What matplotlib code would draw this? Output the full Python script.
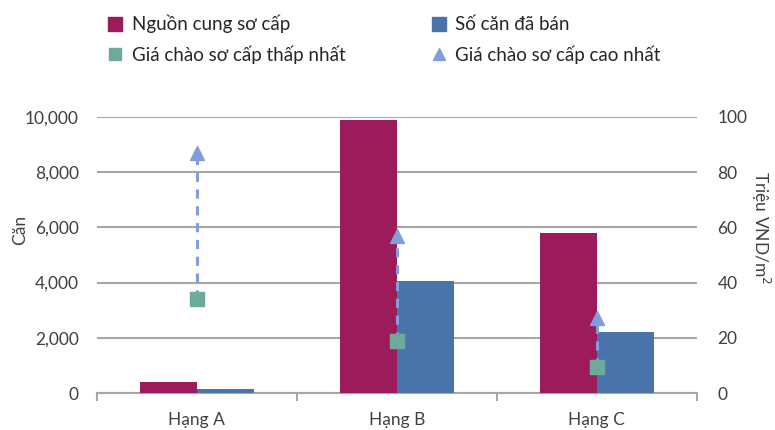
import matplotlib
matplotlib.use("Agg")
import matplotlib.pyplot as plt
from matplotlib.lines import Line2D
from matplotlib.patches import Patch
from matplotlib.ticker import FuncFormatter

categories = ["Hạng A", "Hạng B", "Hạng C"]
supply = [400, 9900, 5800]
sold = [130, 4070, 2200]
price_min = [34, 19, 9.5]
price_max = [87, 57, 27]

c_supply = "#9c1b5b"
c_sold = "#4a74a9"
c_min = "#6daa9c"
c_max = "#7f9edb"
c_grid = "#a6a6a6"

plt.rcParams["font.family"] = ["Lato", "DejaVu Sans"]

fig = plt.figure(figsize=(7.75, 4.30), dpi=100)
ax = fig.add_axes([0.125, 0.086, 0.774, 0.642])

x = list(range(len(categories)))
w = 0.285
ax.bar([i - w / 2 for i in x], supply, width=w, color=c_supply, zorder=3)
ax.bar([i + w / 2 for i in x], sold, width=w, color=c_sold, zorder=3)

ax.set_xlim(-0.5, 2.5)
ax.set_ylim(0, 10000)
ax.set_yticks(range(0, 10001, 2000))
ax.yaxis.set_major_formatter(FuncFormatter(lambda v, p: f"{int(v):,}"))
ax.grid(axis="y", color=c_grid, linewidth=1.5, zorder=0)
ax.set_axisbelow(True)
for s in ["top", "left", "right"]:
    ax.spines[s].set_visible(False)
ax.spines["bottom"].set_color(c_grid)
ax.spines["bottom"].set_linewidth(1.5)
ax.set_xticks(x)
ax.set_xticklabels(categories)
ax.set_xticks([-0.5, 0.5, 1.5, 2.5], minor=True)
ax.tick_params(axis="x", which="major", length=0, pad=14, labelsize=12.5, colors="#404040")
ax.tick_params(axis="x", which="minor", length=6, width=1.5, color=c_grid)
ax.tick_params(axis="y", length=0, pad=13, labelsize=12.5, colors="#404040")
ax.set_ylabel("Căn", fontsize=12.5, color="#404040")
ax.yaxis.set_label_coords(-0.115, 0.59)

ax2 = ax.twinx()
ax2.set_ylim(0, 100)
ax2.set_yticks(range(0, 101, 20))
for s in ["top", "left", "right", "bottom"]:
    ax2.spines[s].set_visible(False)
ax2.tick_params(axis="y", length=0, pad=15, labelsize=12.5, colors="#404040")
ax2.set_ylabel("Triệu VND/m$^2$", fontsize=12.5, color="#404040", rotation=-90)
ax2.yaxis.set_label_coords(1.125, 0.6)

for i in x:
    ax2.plot([i, i], [price_min[i], price_max[i]], color=c_max, linewidth=2.2,
             linestyle=(0, (3, 2.5)), zorder=4)
ax2.scatter(x, price_min, marker="s", s=105, color=c_min, zorder=5)
ax2.scatter(x, price_max, marker="^", s=100, color=c_max, zorder=5)

handles = [
    Patch(color=c_supply),
    Line2D([], [], marker="s", linestyle="none", color=c_min, markersize=9),
    Patch(color=c_sold),
    Line2D([], [], marker="^", linestyle="none", color=c_max, markersize=9),
]
labels = ["Nguồn cung sơ cấp", "Giá chào sơ cấp thấp nhất",
          "Số căn đã bán", "Giá chào sơ cấp cao nhất"]
fig.legend(handles, labels, ncol=2, loc="upper left", bbox_to_anchor=(0.118, 1.005),
           frameon=False, fontsize=13.5, handlelength=0.75, handleheight=0.75,
           handletextpad=0.5, columnspacing=4.6, labelspacing=0.65,
           labelcolor="#262626")

fig.savefig("out.png", dpi=100)
